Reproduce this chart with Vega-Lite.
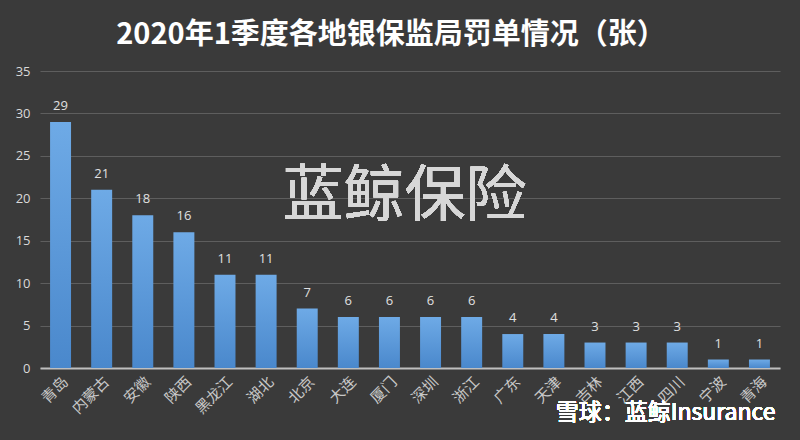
{
  "$schema": "https://vega.github.io/schema/vega-lite/v6.json",
  "width": 740,
  "height": 297,
  "autosize": {"type": "none"},
  "padding": {"left": 40, "top": 71, "right": 20, "bottom": 72},
  "background": "#3a3a3a",
  "title": {
    "text": "2020年1季度各地银保监局罚单情况（张）",
    "font": "Noto Sans CJK SC",
    "fontSize": 29,
    "fontWeight": "bold",
    "color": "#ffffff",
    "anchor": "middle",
    "dx": -19,
    "offset": 15
  },
  "data": {
    "values": [
      {"region": "青岛", "count": 29},
      {"region": "内蒙古", "count": 21},
      {"region": "安徽", "count": 18},
      {"region": "陕西", "count": 16},
      {"region": "黑龙江", "count": 11},
      {"region": "湖北", "count": 11},
      {"region": "北京", "count": 7},
      {"region": "大连", "count": 6},
      {"region": "厦门", "count": 6},
      {"region": "深圳", "count": 6},
      {"region": "浙江", "count": 6},
      {"region": "广东", "count": 4},
      {"region": "天津", "count": 4},
      {"region": "吉林", "count": 3},
      {"region": "江西", "count": 3},
      {"region": "四川", "count": 3},
      {"region": "宁波", "count": 1},
      {"region": "青海", "count": 1}
    ]
  },
  "encoding": {
    "x": {
      "field": "region",
      "type": "nominal",
      "sort": null,
      "scale": {"paddingInner": 0.49, "paddingOuter": 0.245},
      "axis": {
        "title": null,
        "labelAngle": -45,
        "labelFont": "Noto Sans CJK SC",
        "labelFontSize": 15,
        "labelColor": "#c8c8c8",
        "labelPadding": 6,
        "ticks": false,
        "domainColor": "#bfbfbf",
        "domainWidth": 2
      }
    },
    "y": {
      "field": "count",
      "type": "quantitative",
      "scale": {"domain": [0, 35]},
      "axis": {
        "title": null,
        "values": [0, 5, 10, 15, 20, 25, 30, 35],
        "labelFont": "Open Sans",
        "labelFontSize": 13,
        "labelColor": "#d9d9d9",
        "labelPadding": 10,
        "ticks": false,
        "domain": false,
        "grid": true,
        "gridColor": "#5e5e5e",
        "gridWidth": 1
      }
    }
  },
  "layer": [
    {
      "mark": {
        "type": "bar",
        "color": {
          "gradient": "linear",
          "x1": 0, "y1": 0, "x2": 0, "y2": 1,
          "stops": [
            {"offset": 0, "color": "#6eaae6"},
            {"offset": 1, "color": "#4a88cc"}
          ]
        }
      }
    },
    {
      "mark": {
        "type": "text",
        "baseline": "bottom",
        "dy": -9,
        "font": "Open Sans",
        "fontSize": 13,
        "color": "#e0e0e0"
      },
      "encoding": {"text": {"field": "count", "type": "quantitative"}}
    },
    {
      "mark": {
        "type": "text",
        "font": "Noto Sans CJK SC",
        "fontSize": 61,
        "fontWeight": 400,
        "color": "#d8d8d8",
        "opacity": 0.9,
        "dx": 15
      },
      "encoding": {
        "x": {"datum": "厦门"},
        "y": {"datum": 20},
        "text": {"value": "蓝鲸保险"}
      }
    },
    {
      "mark": {
        "type": "text",
        "font": "Noto Sans CJK SC",
        "fontSize": 23,
        "fontWeight": 400,
        "color": "#ffffff",
        "align": "right",
        "dx": 16
      },
      "encoding": {
        "x": {"datum": "青海"},
        "y": {"datum": -5.3},
        "text": {"value": "雪球：蓝鲸Insurance"}
      }
    }
  ],
  "config": {
    "view": {"stroke": null}
  }
}
